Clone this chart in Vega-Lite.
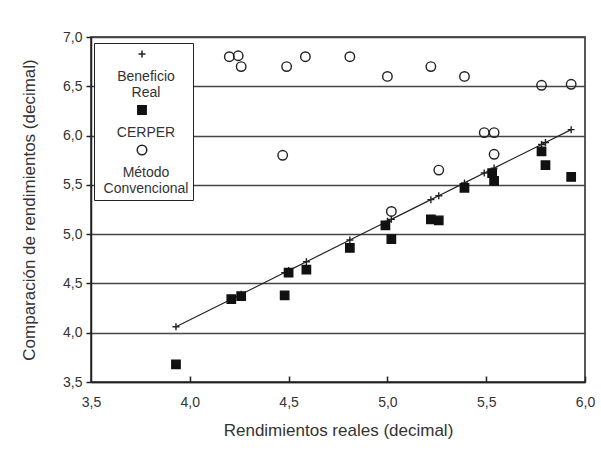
{
  "$schema": "https://vega.github.io/schema/vega-lite/v6.json",
  "width": 494,
  "height": 345,
  "autosize": {"type": "none"},
  "padding": {"left": 91, "top": 37, "right": 16, "bottom": 71},
  "background": "white",
  "config": {
    "font": "Liberation Sans",
    "view": {"stroke": "#222", "strokeWidth": 1.5},
    "axis": {
      "labelFont": "Liberation Sans",
      "titleFont": "Liberation Sans",
      "labelColor": "#333",
      "titleColor": "#333",
      "titleFontWeight": "normal",
      "domainColor": "#222",
      "tickColor": "#222",
      "domainWidth": 1.5,
      "tickWidth": 1.5,
      "gridColor": "#444",
      "gridWidth": 1.3,
      "gridOpacity": 1,
      "labelFontSize": 14,
      "titleFontSize": 17
    },
    "legend": {
      "orient": "none",
      "legendX": 3,
      "legendY": 6,
      "strokeColor": "#222",
      "fillColor": "white",
      "padding": 4,
      "labelFont": "Liberation Sans",
      "labelFontSize": 14,
      "labelColor": "#333",
      "labelAlign": "center",
      "labelBaseline": "top",
      "labelOffset": -3,
      "symbolOffset": 37,
      "rowPadding": 2
    }
  },
  "resolve": {"axis": {"x": "independent"}},
  "data": {
    "values": [
      {"x": 3.93, "serie": "Beneficio Real", "y": 4.06},
      {"x": 4.21, "serie": "Beneficio Real", "y": 4.34},
      {"x": 4.26, "serie": "Beneficio Real", "y": 4.39},
      {"x": 4.48, "serie": "Beneficio Real", "y": 4.61},
      {"x": 4.50, "serie": "Beneficio Real", "y": 4.63},
      {"x": 4.59, "serie": "Beneficio Real", "y": 4.72},
      {"x": 4.81, "serie": "Beneficio Real", "y": 4.94},
      {"x": 5.00, "serie": "Beneficio Real", "y": 5.13},
      {"x": 5.02, "serie": "Beneficio Real", "y": 5.15},
      {"x": 5.22, "serie": "Beneficio Real", "y": 5.35},
      {"x": 5.26, "serie": "Beneficio Real", "y": 5.39},
      {"x": 5.39, "serie": "Beneficio Real", "y": 5.52},
      {"x": 5.49, "serie": "Beneficio Real", "y": 5.62},
      {"x": 5.54, "serie": "Beneficio Real", "y": 5.67},
      {"x": 5.78, "serie": "Beneficio Real", "y": 5.91},
      {"x": 5.80, "serie": "Beneficio Real", "y": 5.93},
      {"x": 5.93, "serie": "Beneficio Real", "y": 6.06},
      {"x": 3.93, "serie": "CERPER", "y": 3.68},
      {"x": 4.21, "serie": "CERPER", "y": 4.34},
      {"x": 4.26, "serie": "CERPER", "y": 4.37},
      {"x": 4.48, "serie": "CERPER", "y": 4.38},
      {"x": 4.50, "serie": "CERPER", "y": 4.61},
      {"x": 4.59, "serie": "CERPER", "y": 4.64},
      {"x": 4.81, "serie": "CERPER", "y": 4.86},
      {"x": 4.99, "serie": "CERPER", "y": 5.09},
      {"x": 5.02, "serie": "CERPER", "y": 4.95},
      {"x": 5.22, "serie": "CERPER", "y": 5.15},
      {"x": 5.26, "serie": "CERPER", "y": 5.14},
      {"x": 5.39, "serie": "CERPER", "y": 5.47},
      {"x": 5.53, "serie": "CERPER", "y": 5.62},
      {"x": 5.54, "serie": "CERPER", "y": 5.54},
      {"x": 5.78, "serie": "CERPER", "y": 5.84},
      {"x": 5.80, "serie": "CERPER", "y": 5.70},
      {"x": 5.93, "serie": "CERPER", "y": 5.58},
      {"x": 3.92, "serie": "Método Convencional", "y": 5.80},
      {"x": 4.20, "serie": "Método Convencional", "y": 6.80},
      {"x": 4.245, "serie": "Método Convencional", "y": 6.81},
      {"x": 4.26, "serie": "Método Convencional", "y": 6.70},
      {"x": 4.47, "serie": "Método Convencional", "y": 5.80},
      {"x": 4.49, "serie": "Método Convencional", "y": 6.70},
      {"x": 4.585, "serie": "Método Convencional", "y": 6.80},
      {"x": 4.81, "serie": "Método Convencional", "y": 6.80},
      {"x": 5.00, "serie": "Método Convencional", "y": 6.60},
      {"x": 5.02, "serie": "Método Convencional", "y": 5.23},
      {"x": 5.22, "serie": "Método Convencional", "y": 6.70},
      {"x": 5.26, "serie": "Método Convencional", "y": 5.65},
      {"x": 5.39, "serie": "Método Convencional", "y": 6.60},
      {"x": 5.49, "serie": "Método Convencional", "y": 6.03},
      {"x": 5.54, "serie": "Método Convencional", "y": 6.03},
      {"x": 5.54, "serie": "Método Convencional", "y": 5.81},
      {"x": 5.78, "serie": "Método Convencional", "y": 6.51},
      {"x": 5.93, "serie": "Método Convencional", "y": 6.52}
    ]
  },
  "layer": [
    {
      "transform": [{"filter": "datum.serie == 'Beneficio Real'"}],
      "mark": {"type": "line", "color": "#222", "strokeWidth": 1.2},
      "encoding": {
        "x": {
          "field": "x",
          "type": "quantitative",
          "scale": {"domain": [3.5, 6.0], "nice": false, "zero": false},
          "axis": {
            "orient": "top",
            "offset": -345,
            "zindex": 2,
            "values": [4.0, 4.5, 5.0, 5.5, 6.0],
            "labels": false,
            "domain": false,
            "grid": false,
            "ticks": true,
            "tickSize": 6,
            "tickColor": "#222",
            "title": null
          }
        },
        "y": {"field": "y", "type": "quantitative", "scale": {"domain": [3.5, 7.0], "nice": false, "zero": false}}
      }
    },
    {
      "mark": {"type": "point", "strokeWidth": 1.4, "opacity": 1},
      "encoding": {
        "x": {
          "field": "x",
          "type": "quantitative",
          "title": "Rendimientos reales (decimal)",
          "scale": {"domain": [3.5, 6.0], "nice": false, "zero": false},
          "axis": {
            "values": [3.5, 4.0, 4.5, 5.0, 5.5, 6.0],
            "grid": false,
            "ticks": false,
            "tickSize": 0,
            "labelPadding": 13,
            "labelFlush": false,
            "labelExpr": "replace(format(datum.value, '.1f'), '.', ',')",
            "titlePadding": 13
          }
        },
        "y": {
          "field": "y",
          "type": "quantitative",
          "title": "Comparación de rendimientos (decimal)",
          "scale": {"domain": [3.5, 7.0], "nice": false, "zero": false},
          "axis": {
            "values": [3.5, 4.0, 4.5, 5.0, 5.5, 6.0, 6.5, 7.0],
            "grid": true,
            "tickSize": 5,
            "labelPadding": 4,
            "labelExpr": "replace(format(datum.value, '.1f'), '.', ',')",
            "titlePadding": 24
          }
        },
        "shape": {
          "field": "serie",
          "type": "nominal",
          "title": null,
          "scale": {
            "domain": ["Beneficio Real", "CERPER", "Método Convencional"],
            "range": ["M-1,0L1,0M0,-1L0,1", "square", "circle"]
          },
          "legend": {
            "labelExpr": "split(' ' + datum.label, ' ')"
          }
        },
        "fill": {
          "field": "serie",
          "type": "nominal",
          "title": null,
          "scale": {
            "domain": ["Beneficio Real", "CERPER", "Método Convencional"],
            "range": ["transparent", "#111", "transparent"]
          }
        },
        "stroke": {
          "field": "serie",
          "type": "nominal",
          "title": null,
          "scale": {
            "domain": ["Beneficio Real", "CERPER", "Método Convencional"],
            "range": ["#222", "#111", "#222"]
          }
        },
        "size": {
          "field": "serie",
          "type": "nominal",
          "title": null,
          "scale": {
            "domain": ["Beneficio Real", "CERPER", "Método Convencional"],
            "range": [49, 90, 75]
          }
        }
      }
    }
  ]
}
